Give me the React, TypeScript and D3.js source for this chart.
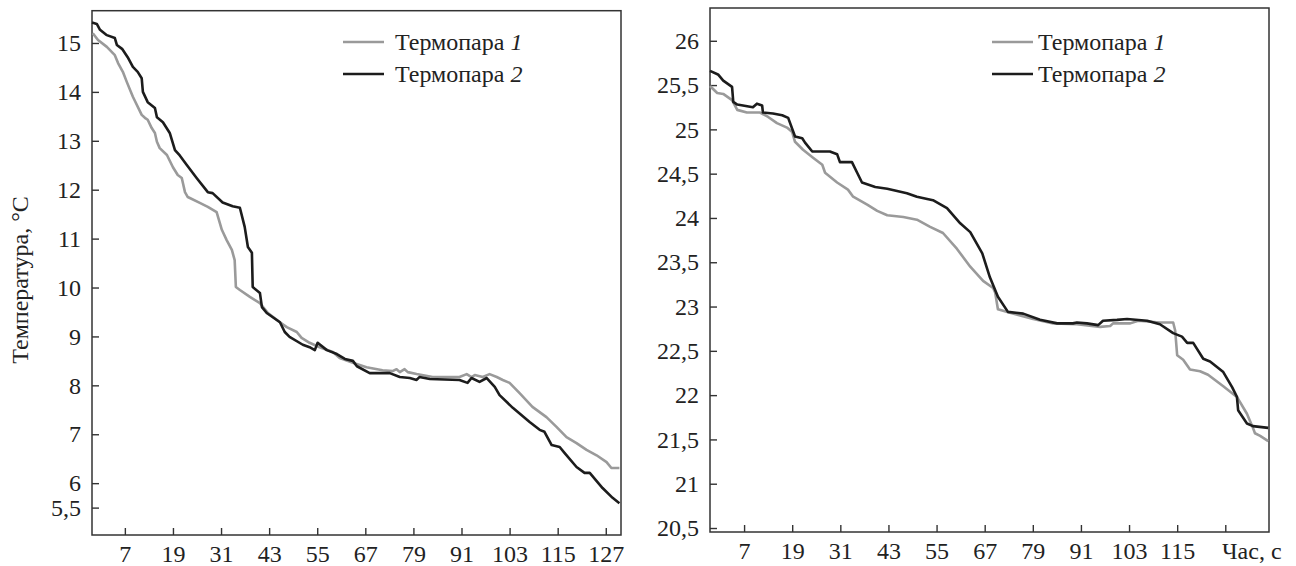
import React, { useEffect, useRef } from "react";
import * as d3 from "d3";

// time (s), temperature (°C)
const leftProbe1: [number, number][] = [
  [-1.0, 15.2], [0.3, 15.06], [2.5, 14.92], [4.5, 14.75], [5.3, 14.59], [6.5, 14.41], [7.5, 14.2],
  [9.0, 13.9], [11.2, 13.53], [12.0, 13.47], [12.7, 13.43], [13.7, 13.26], [14.5, 13.16], [15.0, 12.98],
  [15.7, 12.85], [17.5, 12.71], [19.0, 12.46], [20.2, 12.3], [21.2, 12.24], [22.0, 11.95], [22.7, 11.85],
  [25.7, 11.73], [27.7, 11.65], [29.9, 11.54], [31.2, 11.18], [32.4, 10.97], [33.7, 10.77], [34.4, 10.56],
  [34.7, 10.01], [35.7, 9.95], [38.2, 9.81], [40.7, 9.68], [42.7, 9.48], [45.7, 9.29], [47.4, 9.19],
  [49.9, 9.09], [51.1, 8.97], [53.1, 8.87], [55.6, 8.78], [58.9, 8.68], [60.6, 8.56], [63.9, 8.46],
  [67.3, 8.37], [71.3, 8.31], [73.8, 8.29], [74.8, 8.33], [75.6, 8.27], [76.8, 8.33], [77.6, 8.27],
  [79.8, 8.23], [83.8, 8.17], [90.5, 8.17], [92.3, 8.23], [93.5, 8.17], [94.3, 8.21], [96.3, 8.17],
  [98.0, 8.23], [99.8, 8.17], [101.3, 8.11], [103.0, 8.05], [105.5, 7.84], [108.7, 7.56], [112.2, 7.35],
  [114.7, 7.15], [117.2, 6.94], [119.7, 6.82], [122.2, 6.68], [124.7, 6.57], [127.2, 6.43], [128.4, 6.31],
  [130.4, 6.31],
];

const leftProbe2: [number, number][] = [
  [-1.2, 15.42], [0, 15.39], [0.8, 15.27], [2.5, 15.16], [4.5, 15.1], [5.0, 14.96], [6.3, 14.88],
  [7.7, 14.71], [9.0, 14.51], [10.2, 14.41], [11.2, 14.28], [11.5, 14.0], [12.7, 13.79], [14.5, 13.67],
  [15.0, 13.48], [16.5, 13.38], [18.2, 13.16], [19.5, 12.81], [20.7, 12.7], [22.5, 12.5], [25.0, 12.23],
  [27.7, 11.95], [28.9, 11.93], [31.4, 11.74], [33.9, 11.66], [35.7, 11.63], [36.9, 11.24], [37.7, 10.83],
  [38.7, 10.71], [38.9, 10.01], [40.7, 9.89], [41.2, 9.6], [42.4, 9.48], [45.7, 9.29], [46.9, 9.09],
  [48.1, 8.99], [51.4, 8.83], [53.1, 8.78], [54.4, 8.72], [55.1, 8.87], [57.4, 8.72], [59.9, 8.64],
  [61.9, 8.54], [63.9, 8.5], [64.9, 8.39], [68.1, 8.25], [73.1, 8.25], [75.6, 8.17], [78.1, 8.15],
  [79.8, 8.11], [80.5, 8.17], [83.1, 8.13], [90.5, 8.11], [92.5, 8.05], [93.5, 8.15], [95.5, 8.07],
  [97.3, 8.15], [99.3, 7.97], [100.5, 7.8], [103.8, 7.54], [108.0, 7.25], [110.5, 7.09], [111.7, 7.05],
  [113.5, 6.78], [115.5, 6.74], [116.7, 6.62], [119.7, 6.33], [121.7, 6.21], [123.0, 6.21], [126.2, 5.9],
  [128.7, 5.7], [130.4, 5.59],
];

const rightProbe1: [number, number][] = [
  [-1.5, 25.49], [0.3, 25.41], [1.8, 25.4], [4.0, 25.33], [5.3, 25.22], [7.7, 25.19], [11.0, 25.19],
  [13.0, 25.14], [15.2, 25.07], [17.7, 25.02], [19.0, 24.97], [19.7, 24.86], [21.7, 24.77], [24.2, 24.68],
  [26.5, 24.6], [27.2, 24.51], [30.2, 24.4], [32.9, 24.32], [34.2, 24.24], [37.7, 24.15], [40.2, 24.08],
  [42.7, 24.03], [46.7, 24.01], [50.1, 23.98], [53.4, 23.9], [56.6, 23.83], [60.1, 23.65], [63.4, 23.45],
  [66.6, 23.29], [69.1, 23.21], [69.6, 23.16], [70.3, 22.97], [73.3, 22.93], [79.1, 22.86], [84.1, 22.81],
  [90.0, 22.8], [95.8, 22.77], [98.3, 22.78], [99.0, 22.81], [103.3, 22.81], [105.3, 22.84], [110.7, 22.82],
  [114.0, 22.82], [114.5, 22.73], [115.0, 22.45], [116.5, 22.4], [118.2, 22.29], [120.7, 22.27],
  [122.7, 22.23], [126.5, 22.1], [129.9, 21.98], [132.4, 21.79], [133.9, 21.63], [134.4, 21.57],
  [135.7, 21.54], [137.7, 21.48],
];

const rightProbe2: [number, number][] = [
  [-1.5, 25.66], [0.5, 25.62], [1.8, 25.55], [4.0, 25.48], [4.3, 25.31], [5.3, 25.28], [9.2, 25.25],
  [10.2, 25.29], [11.5, 25.27], [11.7, 25.19], [14.2, 25.18], [16.5, 25.16], [18.0, 25.13], [19.7, 24.92],
  [21.5, 24.9], [22.2, 24.85], [24.0, 24.75], [28.4, 24.75], [30.2, 24.72], [30.9, 24.63], [33.9, 24.63],
  [35.2, 24.51], [36.4, 24.4], [39.7, 24.35], [42.7, 24.33], [47.6, 24.28], [50.1, 24.24], [54.1, 24.2],
  [57.6, 24.11], [60.9, 23.94], [63.4, 23.84], [66.4, 23.6], [68.3, 23.33], [70.3, 23.11], [72.8, 22.94],
  [76.6, 22.92], [80.8, 22.85], [85.1, 22.81], [89.0, 22.81], [90.0, 22.82], [92.5, 22.81], [95.3, 22.79],
  [96.5, 22.84], [100.0, 22.85], [102.5, 22.86], [107.5, 22.84], [110.7, 22.8], [114.0, 22.7],
  [116.2, 22.66], [117.5, 22.59], [119.0, 22.59], [121.5, 22.41], [123.2, 22.38], [126.5, 22.26],
  [128.7, 22.09], [129.9, 21.98], [130.2, 21.83], [132.4, 21.68], [133.9, 21.65], [137.7, 21.63],
];

const xTicks = [7, 19, 31, 43, 55, 67, 79, 91, 103, 115, 127];
const leftYTicks = [15, 14, 13, 12, 11, 10, 9, 8, 7, 6, 5.5];
const rightYTicks = [26, 25.5, 25, 24.5, 24, 23.5, 23, 22.5, 22, 21.5, 21, 20.5];
const seriesNames = ["Термопара ", "Термопара "];
const seriesNums = ["1", "2"];

const FONT = "Liberation Serif, DejaVu Serif, serif";
const GRAY = "#9a9a9a";
const BLACK = "#1c1c1c";
const AXIS = "#333";

function drawPanel(svg: any, cfg: any) {
  const x = d3.scaleLinear().domain(cfg.xDomain).range([cfg.left, cfg.right]);
  const y = d3.scaleLinear().domain(cfg.yDomain).range([cfg.bottom, cfg.top]);
  const fmt = (v: number) => String(v).replace(".", ",");

  const g = svg.append("g");

  // y axis, ticks point inward
  const yAx = g.append("g")
    .attr("transform", `translate(${cfg.left},0)`)
    .call(d3.axisLeft(y).tickValues(cfg.yTicks).tickSize(-7).tickPadding(11).tickFormat(fmt as any));
  // x axis
  const xAx = g.append("g")
    .attr("transform", `translate(0,${cfg.bottom})`)
    .call(d3.axisBottom(x).tickValues(xTicks).tickSize(-7).tickPadding(10)
      .tickFormat((d: any) => (cfg.hideLast && d === 127 ? "" : String(d))));

  [yAx, xAx].forEach((ax) => {
    ax.attr("font-family", null).attr("font-size", null);
    ax.select(".domain").remove();
    ax.selectAll("line").attr("stroke", AXIS).attr("stroke-width", 1.4);
    ax.selectAll("text").style("font-family", FONT).style("font-size", "24px").attr("fill", "#222");
  });

  // frame
  g.append("rect")
    .attr("x", cfg.left).attr("y", cfg.top)
    .attr("width", cfg.right - cfg.left).attr("height", cfg.bottom - cfg.top)
    .attr("fill", "none").attr("stroke", AXIS).attr("stroke-width", 1.5);

  const line = d3.line<[number, number]>().x((d) => x(d[0])).y((d) => y(d[1]));
  const series = [
    { data: cfg.s1, color: GRAY },
    { data: cfg.s2, color: BLACK },
  ];
  series.forEach((s) => {
    g.append("path").datum(s.data)
      .attr("d", line).attr("fill", "none")
      .attr("stroke", s.color).attr("stroke-width", 2.6)
      .attr("stroke-linejoin", "round");
  });

  // legend
  series.forEach((s, i) => {
    const ly = 42 + i * 32;
    g.append("line")
      .attr("x1", cfg.legX).attr("x2", cfg.legX + 41)
      .attr("y1", ly).attr("y2", ly)
      .attr("stroke", s.color).attr("stroke-width", 2.6);
    const t = g.append("text")
      .attr("x", cfg.legX + cfg.legGap).attr("y", ly + 8)
      .style("font-family", FONT).style("font-size", "24px").attr("fill", "#222");
    t.append("tspan").text(seriesNames[i]);
    t.append("tspan").attr("font-style", "italic").text(seriesNums[i]);
  });
}

export default function App() {
  const ref = useRef<SVGSVGElement>(null);

  useEffect(() => {
    const svg = d3.select(ref.current);
    svg.selectAll("*").remove();

    drawPanel(svg, {
      left: 92, right: 621, top: 10.7, bottom: 535,
      xDomain: [-1.2, 130.8], yDomain: [4.94, 15.66],
      yTicks: leftYTicks, s1: leftProbe1, s2: leftProbe2,
      legX: 343, legGap: 52, hideLast: false,
    });
    drawPanel(svg, {
      left: 710, right: 1269, top: 8, bottom: 532,
      xDomain: [-1.5, 137.9], yDomain: [20.455, 26.37],
      yTicks: rightYTicks, s1: rightProbe1, s2: rightProbe2,
      legX: 992, legGap: 46, hideLast: true,
    });

    // axis titles
    svg.append("text")
      .attr("transform", "translate(28,280) rotate(-90)")
      .attr("text-anchor", "middle")
      .style("font-family", FONT).style("font-size", "24px").attr("fill", "#222")
      .text("Температура, °С");
    svg.append("text")
      .attr("x", 1222).attr("y", 559)
      .style("font-family", FONT).style("font-size", "24px").attr("fill", "#222")
      .text("Час, с");
  }, []);

  return (
    <svg ref={ref} width={1296} height={566}
      style={{ position: "absolute", left: 0, top: 0, background: "#fff" }} />
  );
}
